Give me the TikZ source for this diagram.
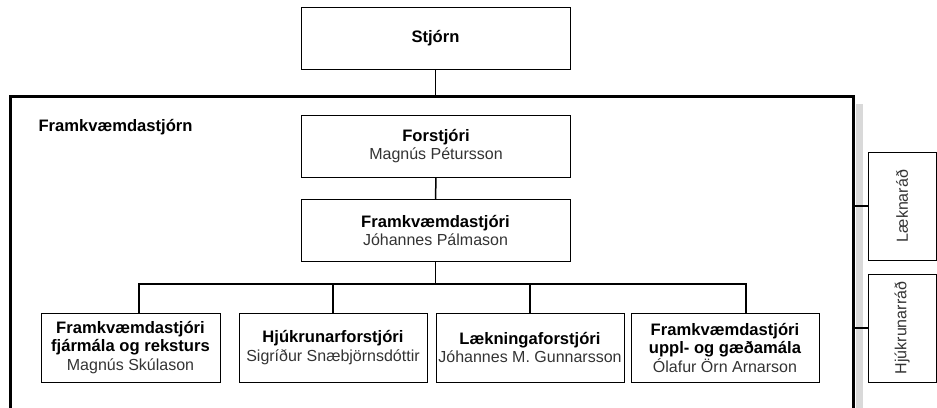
\documentclass[tikz,border=0pt]{standalone}
\usepackage{fontspec}
\setmainfont{Liberation Sans}
\newcommand{\who}[1]{{\fontsize{16}{18.5}\selectfont\color{black!80}#1}}

\begin{document}
\begin{tikzpicture}[x=1pt, y=-1pt,
	box/.style = {draw, line width=0.9pt, minimum width=269pt, minimum height=62pt, inner sep=0pt, align=center, font=\fontsize{16.6}{18.5}\selectfont},
	unit/.style = {box, minimum width=188pt, minimum height=69pt},
	council/.style = {draw, line width=0.9pt, minimum width=108pt, minimum height=68pt, inner sep=0pt, rotate=90, font=\fontsize{16}{18}\selectfont\color{black!80}},
	conn/.style = {line width=1.5pt}]
	\useasboundingbox (0,0) rectangle (937,407);

	\fill[black!15] (856,104) rectangle (863,410);
	\coordinate (tl) at (10.5,96.5);
	\coordinate (tr) at (853.5,96.5);
	\draw[line width=3pt] (tl |- 0,410) -- (tl) -- (tr) -- (tr |- 0,410);
	\node[anchor=west, font=\fontsize{16.6}{18}\selectfont\bfseries] (fstjorn) at (35,127) {Framkvæmdastjórn};

	\node[box] (stjorn) at (435.5,38) {\textbf{Stjórn}};
	\node[box] (forstj) at (436,146) {\textbf{Forstjóri}\\\who{Magnús Pétursson}};
	\node[box] (framk) at (435.5,230.5) {\textbf{Framkvæmdastjóri}\\\who{Jóhannes Pálmason}};

	\node[unit, minimum width=179pt] (fjarm) at (130.5,347.5) {\textbf{Framkvæmdastjóri}\\\textbf{fjármála og reksturs}\\\who{Magnús Skúlason}};
	\node[unit] (hjukr) at (333,347.5) {\textbf{Hjúkrunarforstjóri}\\\who{Sigríður Snæbjörnsdóttir}};
	\node[unit] (laekn) at (530,347.5) {\textbf{Lækningaforstjóri}\\\who{Jóhannes M. Gunnarsson}};
	\node[unit] (uppl) at (725,347.5) {\textbf{Framkvæmdastjóri}\\\textbf{uppl- og gæðamála}\\\who{Ólafur Örn Arnarson}};

	\node[council] (lrad) at (902,206) {Læknaráð};
	\node[council] (hrad) at (902,328) {Hjúkrunarráð};

	\coordinate (busl) at (139,284);
	\coordinate (busr) at (746,284);
	\draw[conn] (stjorn.south) -- (stjorn.south |- tr);
	\draw[conn] (forstj.south) -- (framk.north);
	\draw[conn] (framk.south) -- (framk.south |- busl);
	\draw[conn] (busl |- fjarm.north) -- (busl) -- (busr) -- (busr |- uppl.north);
	\draw[conn] (hjukr.north) -- (hjukr.north |- busl);
	\draw[conn] (laekn.north) -- (laekn.north |- busl);
	\draw[conn] (lrad.north -| tr) -- (lrad.north);
	\draw[conn] (hrad.north -| tr) -- (hrad.north);
\end{tikzpicture}
\end{document}
